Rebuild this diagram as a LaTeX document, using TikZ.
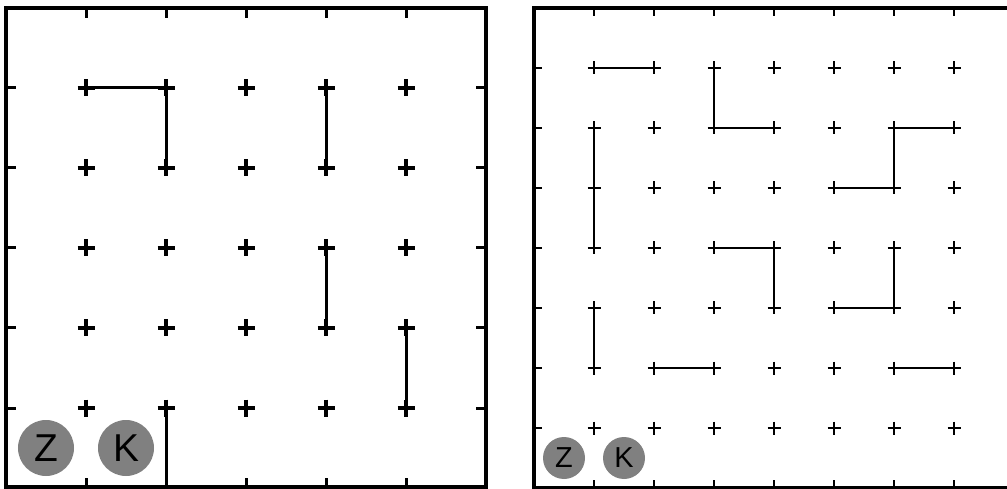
\documentclass[tikz,border=0pt]{standalone}
\usepackage{fontspec}
\setmainfont{Liberation Sans}
\begin{document}
\begin{tikzpicture}[x=1bp,y=-1bp,
  frameL/.style={line width=3.8bp},
  frameR/.style={line width=3.4bp},
  tickL/.style={line width=3bp},
  tickR/.style={line width=2.5bp},
  crossL/.style={line width=3.4bp},
  crossR/.style={line width=2.7bp},
  wallL/.style={line width=3bp},
  wallR/.style={line width=2.5bp},
  tokenL/.style={circle,fill=black!50,inner sep=0pt,minimum size=56bp,font=\fontsize{39}{39}\selectfont},
  tokenR/.style={circle,fill=black!50,inner sep=0pt,minimum size=42bp,font=\fontsize{29}{29}\selectfont}]
\useasboundingbox (0,0) rectangle (1007,489);
\clip (0,0) rectangle (1007,489);
% ---------- left panel ----------
\foreach \i in {1,...,5}{
  \foreach \j in {1,...,5}{
    \coordinate (L-\i-\j) at ({6+80*\i},{8+80*\j});
    \draw[crossL] (L-\i-\j) ++(-8.5,0) -- ++(17,0) (L-\i-\j) ++(0,-8.5) -- ++(0,17);
  }
  \draw[tickL] ({6+80*\i},8) -- ++(0,10);
  \draw[tickL] ({6+80*\i},487) -- ++(0,-9);
  \draw[tickL] (6,{8+80*\i}) -- ++(10,0);
  \draw[tickL] (486,{8+80*\i}) -- ++(-10,0);
}
\coordinate (L-2-6) at (166,487);
\draw[frameL] (6,8) rectangle (486,487);
\draw[wallL] (L-1-1) -- (L-2-1) -- (L-2-2);
\draw[wallL] (L-4-1) -- (L-4-2);
\draw[wallL] (L-4-3) -- (L-4-4);
\draw[wallL] (L-5-4) -- (L-5-5);
\draw[wallL] (L-2-5) -- (L-2-6);
\node[tokenL] (LZ) at (46,448) {Z};
\node[tokenL] (LK) at (126,448) {K};
% ---------- right panel ----------
\foreach \i in {1,...,7}{
  \foreach \j in {1,...,7}{
    \coordinate (R-\i-\j) at ({534+60*\i},{8+60*\j});
    \draw[crossR] (R-\i-\j) ++(-6.5,0) -- ++(13,0) (R-\i-\j) ++(0,-6.5) -- ++(0,13);
  }
  \draw[tickR] ({534+60*\i},8) -- ++(0,8);
  \draw[tickR] ({534+60*\i},488) -- ++(0,-8);
  \draw[tickR] (534,{8+60*\i}) -- ++(8,0);
}
\draw[frameR] (534,8) rectangle (1014,488);
\draw[wallR] (R-1-1) -- (R-2-1);
\draw[wallR] (R-3-1) -- (R-3-2) -- (R-4-2);
\draw[wallR] (R-7-2) -- (R-6-2) -- (R-6-3) -- (R-5-3);
\draw[wallR] (R-1-2) -- (R-1-4);
\draw[wallR] (R-3-4) -- (R-4-4) -- (R-4-5);
\draw[wallR] (R-6-4) -- (R-6-5) -- (R-5-5);
\draw[wallR] (R-1-5) -- (R-1-6);
\draw[wallR] (R-2-6) -- (R-3-6);
\draw[wallR] (R-6-6) -- (R-7-6);
\node[tokenR] (RZ) at (564,458) {Z};
\node[tokenR] (RK) at (624,458) {K};
\end{tikzpicture}
\end{document}
